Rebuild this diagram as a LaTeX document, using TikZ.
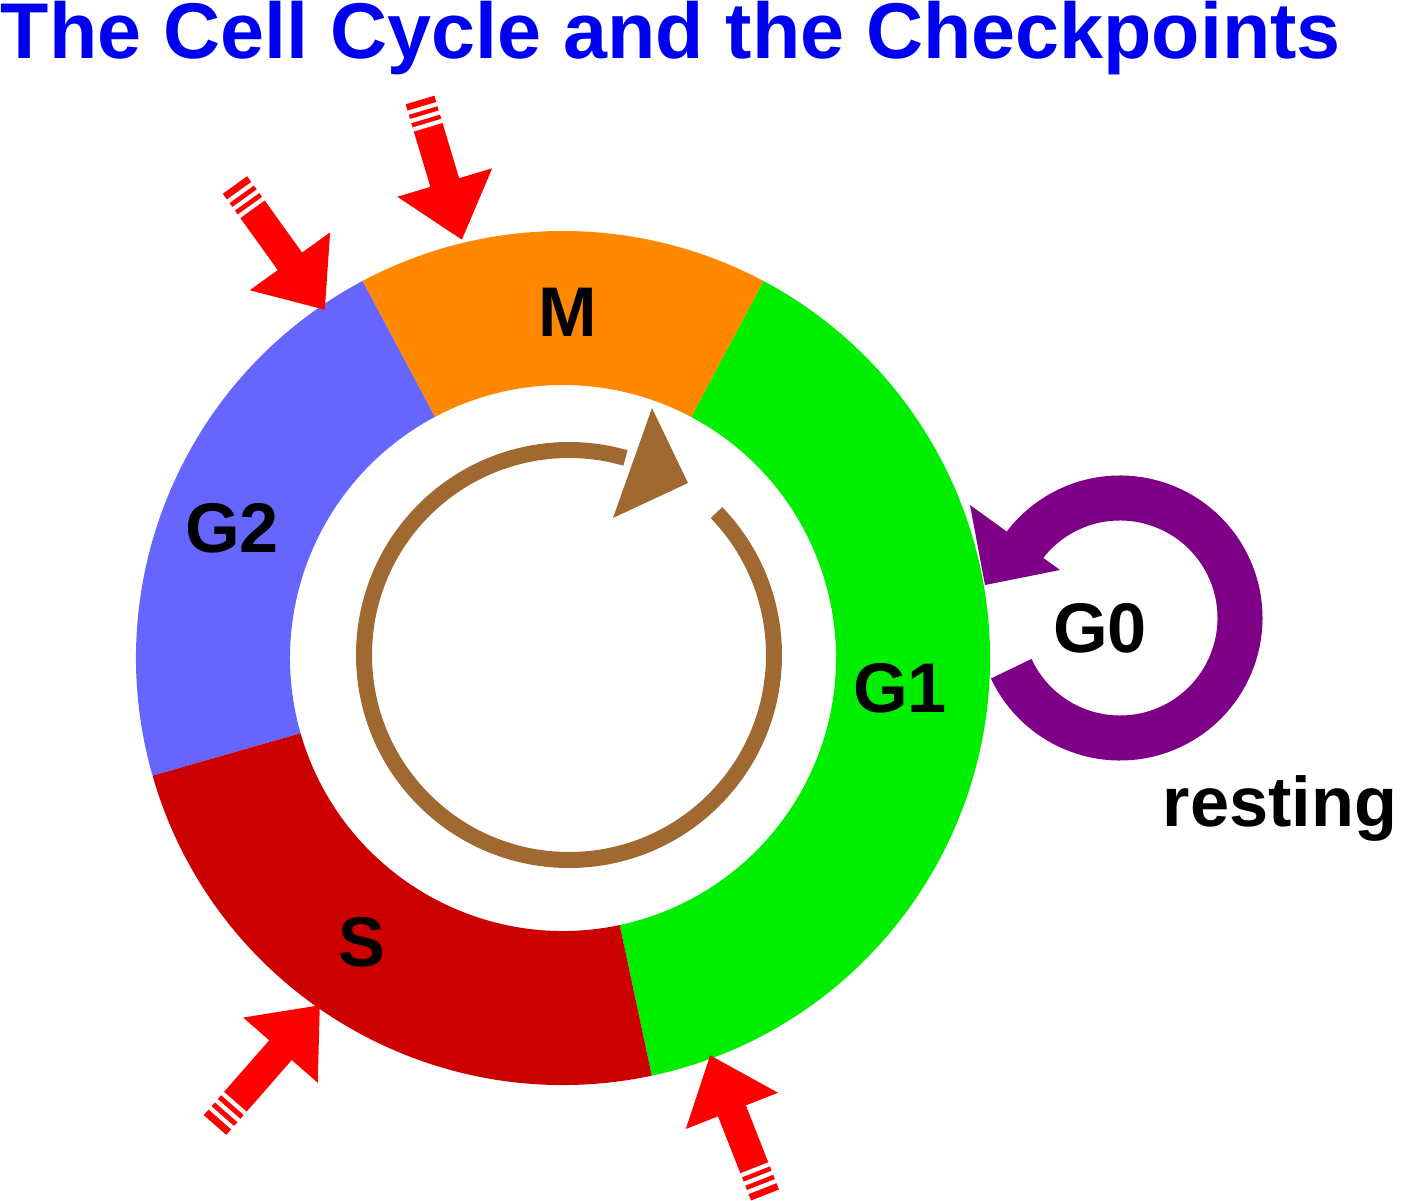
\documentclass[tikz,border=0pt]{standalone}
\usepackage{fontspec}
\setmainfont{Liberation Sans}
\usetikzlibrary{arrows.meta,calc}
\definecolor{phaseM}{RGB}{255,136,0}
\definecolor{phaseGone}{RGB}{0,238,0}
\definecolor{phaseGtwo}{RGB}{102,102,255}
\definecolor{phaseS}{RGB}{204,0,0}
\definecolor{cyclebrown}{RGB}{160,105,50}
\definecolor{restpurple}{RGB}{125,0,135}
\definecolor{titleblue}{RGB}{0,0,240}
\tikzset{
  phase/.style={font=\fontsize{20}{24}\selectfont\bfseries},
  checkpoint/.style={red, line width=0.3cm, -{Triangle[width=0.95cm,length=0.6cm]}},
  stripe/.style={white, line width=1.2pt}
}
\begin{document}
\begin{tikzpicture}
  \useasboundingbox (0,0) rectangle (14.08,12);

  % Titel
  \node[anchor=west, text=titleblue, font=\fontsize{22.5}{27}\selectfont\bfseries, inner sep=0pt] (title) at (0,11.62) {The Cell Cycle and the Checkpoints};

  % Ring der Phasen
  \begin{scope}[shift={(5.63,5.42)}]
    \fill[phaseGone] (282:4.27) arc (282:422:4.27) -- (422:2.73) arc (422:282:2.73) -- cycle;
    \fill[phaseM] (62:4.27) arc (62:118:4.27) -- (118:2.73) arc (118:62:2.73) -- cycle;
    \fill[phaseGtwo] (118:4.27) arc (118:196:4.27) -- (196:2.73) arc (196:118:2.73) -- cycle;
    \fill[phaseS] (196:4.27) arc (196:282:4.27) -- (282:2.73) arc (282:196:2.73) -- cycle;
  \end{scope}

  % Kreispfeil innen
  \draw[cyclebrown, line width=0.16cm]
    ($(5.69,5.45)+(44:2.05)$) arc (44:-286:2.05);
  \fill[cyclebrown] (6.52,7.92) -- (6.88,7.17) -- (6.13,6.82) -- cycle;

  % Ruhephase
  \draw[restpurple, line width=0.45cm]
    ($(11.2,5.82)+(205:1.2)$) arc (205:508:1.2);
  \fill[restpurple] (9.70,6.95) -- (9.85,6.15) -- (10.6,6.3) -- cycle;

  % Beschriftungen
  \node[phase] (M) at (5.68,8.88) {M};
  \node[phase] (G2) at (2.32,6.72) {G2};
  \node[phase] (S) at (3.62,2.58) {S};
  \node[phase] (G1) at (9.0,5.12) {G1};
  \node[phase] (G0) at (11.0,5.72) {G0};
  \node[phase] (rest) at (12.8,3.92) {resting};

  % Kontrollpunkte
  \coordinate (t1) at (4.20,11.0); \coordinate (h1) at (4.62,9.6);
  \coordinate (t2) at (2.35,10.15); \coordinate (h2) at (3.25,8.9);
  \coordinate (t3) at (2.15,0.75); \coordinate (h3) at (3.2,1.95);
  \coordinate (t4) at (7.65,0.05); \coordinate (h4) at (7.1,1.45);
  \foreach \i in {1,2,3,4} {
    \draw[checkpoint] (t\i) -- (h\i);
    \foreach \p in {0.06,0.12,0.18}
      \draw[stripe] ($(t\i)!\p!(h\i)!0.17cm!90:(h\i)$) -- ($(t\i)!\p!(h\i)!0.17cm!-90:(h\i)$);
  }
\end{tikzpicture}
\end{document}
